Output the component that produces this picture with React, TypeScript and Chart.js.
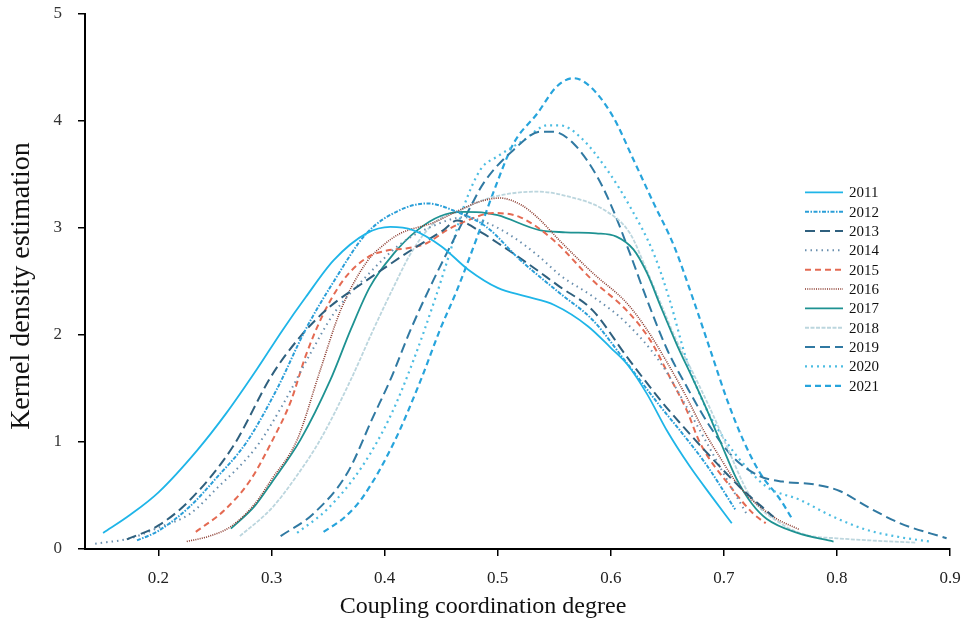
import { useEffect, useRef } from "react";
import { Chart, registerables } from "chart.js";

Chart.register(...registerables);

// ---- data ----
const years = ["2011", "2012", "2013", "2014", "2015", "2016", "2017", "2018", "2019", "2020", "2021"];

const x2011 = [0.151, 0.175, 0.2, 0.234, 0.26, 0.287, 0.31, 0.33, 0.355, 0.384, 0.405, 0.425, 0.45, 0.474, 0.5, 0.525, 0.55, 0.58, 0.6, 0.615, 0.632, 0.65, 0.67, 0.69, 0.707];
const y2011 = [0.15, 0.32, 0.53, 0.92, 1.27, 1.68, 2.05, 2.35, 2.7, 2.95, 3.01, 2.98, 2.83, 2.61, 2.44, 2.36, 2.28, 2.08, 1.88, 1.72, 1.45, 1.1, 0.77, 0.48, 0.24];

const x2012 = [0.181, 0.2, 0.228, 0.25, 0.278, 0.305, 0.33, 0.355, 0.384, 0.414, 0.4375, 0.464, 0.49, 0.52, 0.555, 0.584, 0.614, 0.644, 0.661, 0.685, 0.71];
const y2012 = [0.08, 0.17, 0.4, 0.65, 1.0, 1.5, 2.05, 2.5, 2.95, 3.17, 3.23, 3.15, 3.01, 2.7, 2.39, 2.14, 1.74, 1.33, 1.11, 0.78, 0.37];

const x2013 = [0.172, 0.2, 0.228, 0.266, 0.3, 0.325, 0.35, 0.384, 0.423, 0.452, 0.464, 0.487, 0.5, 0.525, 0.555, 0.584, 0.614, 0.644, 0.661, 0.685, 0.714, 0.744];
const y2013 = [0.09, 0.22, 0.46, 0.96, 1.62, 1.98, 2.25, 2.51, 2.79, 2.98, 3.07, 2.95, 2.86, 2.68, 2.45, 2.23, 1.8, 1.39, 1.18, 0.9, 0.58, 0.3];

const x2014 = [0.144, 0.175, 0.2, 0.228, 0.25, 0.287, 0.31, 0.334, 0.355, 0.384, 0.414, 0.443, 0.47, 0.49, 0.513, 0.537, 0.555, 0.584, 0.614, 0.644, 0.667, 0.685, 0.7, 0.72];
const y2014 = [0.05, 0.1, 0.2, 0.33, 0.55, 0.96, 1.35, 1.82, 2.2, 2.55, 2.85, 3.02, 3.1, 3.05, 2.92, 2.73, 2.56, 2.36, 2.11, 1.74, 1.33, 0.99, 0.7, 0.33];

const x2015 = [0.233, 0.258, 0.281, 0.3, 0.317, 0.33, 0.345, 0.364, 0.384, 0.402, 0.42, 0.4375, 0.455, 0.473, 0.496, 0.52, 0.549, 0.584, 0.614, 0.635, 0.652, 0.667, 0.679, 0.706, 0.726, 0.737];
const y2015 = [0.16, 0.36, 0.64, 1.0, 1.38, 1.8, 2.18, 2.52, 2.72, 2.79, 2.81, 2.86, 2.98, 3.07, 3.14, 3.1, 2.89, 2.51, 2.23, 1.95, 1.61, 1.3, 0.99, 0.58, 0.33, 0.24];

const x2016 = [0.225, 0.245, 0.264, 0.285, 0.3, 0.3226, 0.343, 0.361, 0.384, 0.4, 0.414, 0.443, 0.467, 0.485, 0.502, 0.52, 0.535, 0.555, 0.584, 0.614, 0.632, 0.65, 0.667, 0.682, 0.694, 0.714, 0.744, 0.767];
const y2016 = [0.07, 0.12, 0.21, 0.42, 0.65, 1.02, 1.67, 2.23, 2.68, 2.85, 2.95, 3.05, 3.17, 3.25, 3.28, 3.22, 3.1, 2.88, 2.58, 2.3, 2.05, 1.74, 1.42, 1.11, 0.9, 0.58, 0.3, 0.18];

const x2017 = [0.264, 0.285, 0.3, 0.3255, 0.352, 0.37, 0.387, 0.408, 0.429, 0.449, 0.47, 0.49, 0.5, 0.537, 0.56, 0.587, 0.605, 0.62, 0.632, 0.644, 0.658, 0.673, 0.685, 0.697, 0.711, 0.725, 0.738, 0.765, 0.797];
const y2017 = [0.19, 0.4, 0.62, 1.02, 1.58, 2.05, 2.45, 2.76, 2.98, 3.11, 3.15, 3.14, 3.12, 2.98, 2.96, 2.95, 2.92, 2.8, 2.58, 2.27, 1.92, 1.58, 1.3, 1.0, 0.66, 0.42, 0.28, 0.15, 0.07];

const x2018 = [0.272, 0.3, 0.32, 0.343, 0.37, 0.39, 0.408, 0.423, 0.443, 0.467, 0.496, 0.535, 0.564, 0.594, 0.617, 0.63, 0.644, 0.658, 0.673, 0.691, 0.703, 0.723, 0.75, 0.773, 0.8, 0.83, 0.87];
const y2018 = [0.12, 0.38, 0.65, 1.02, 1.58, 2.05, 2.45, 2.76, 3.04, 3.17, 3.29, 3.34, 3.29, 3.17, 2.95, 2.65, 2.3, 1.95, 1.64, 1.24, 0.95, 0.5, 0.24, 0.13, 0.1, 0.08, 0.06];

const x2019 = [0.308, 0.337, 0.367, 0.39, 0.405, 0.423, 0.443, 0.461, 0.479, 0.4875, 0.514, 0.538, 0.549, 0.567, 0.588, 0.602, 0.617, 0.632, 0.65, 0.667, 0.688, 0.708, 0.732, 0.752, 0.782, 0.803, 0.826, 0.856, 0.897];
const y2019 = [0.12, 0.33, 0.71, 1.24, 1.58, 2.05, 2.51, 2.89, 3.26, 3.42, 3.73, 3.9, 3.9, 3.79, 3.48, 3.17, 2.76, 2.33, 1.86, 1.52, 1.14, 0.86, 0.68, 0.63, 0.6, 0.54, 0.4, 0.24, 0.1];

const x2020 = [0.3226, 0.35, 0.38, 0.405, 0.425, 0.445, 0.46, 0.47, 0.485, 0.5, 0.523, 0.544, 0.555, 0.573, 0.597, 0.617, 0.638, 0.652, 0.667, 0.685, 0.703, 0.717, 0.738, 0.767, 0.797, 0.826, 0.856, 0.882];
const y2020 = [0.15, 0.38, 0.77, 1.24, 1.75, 2.35, 2.85, 3.2, 3.55, 3.67, 3.82, 3.96, 3.96, 3.85, 3.54, 3.2, 2.76, 2.33, 1.77, 1.3, 0.99, 0.8, 0.58, 0.46, 0.3, 0.18, 0.11, 0.07];

const x2021 = [0.346, 0.365, 0.381, 0.408, 0.432, 0.449, 0.464, 0.482, 0.495, 0.514, 0.535, 0.552, 0.567, 0.582, 0.602, 0.62, 0.638, 0.656, 0.673, 0.688, 0.703, 0.717, 0.732, 0.75, 0.761];
const y2021 = [0.16, 0.3, 0.49, 0.99, 1.58, 2.05, 2.42, 2.92, 3.3, 3.79, 4.07, 4.32, 4.4, 4.32, 4.04, 3.64, 3.23, 2.83, 2.33, 1.86, 1.39, 1.02, 0.71, 0.46, 0.27];

const xValues = [x2011, x2012, x2013, x2014, x2015, x2016, x2017, x2018, x2019, x2020, x2021];
const yValues = [y2011, y2012, y2013, y2014, y2015, y2016, y2017, y2018, y2019, y2020, y2021];

const xTicks = [0.2, 0.3, 0.4, 0.5, 0.6, 0.7, 0.8, 0.9];
const yTicks = [0, 1, 2, 3, 4, 5];

const xTitle = "Coupling coordination degree";
const yTitle = "Kernel density estimation";

// ---- styles ----
const seriesColors = ["#1fb5e8", "#2a9ed8", "#2f607e", "#6a8fae", "#e46a52", "#8b3a2e", "#1e9292", "#bcd6de", "#3079a2", "#4dbde2", "#27a4dc"];
const seriesDash: number[][] = [[], [4, 1.5, 1.5, 1.5], [10, 5], [1.5, 4], [6, 4], [1, 1.2], [], [4, 1.5], [10, 5], [2, 4], [6, 4]];
const seriesWidth = [1.8, 2, 2, 2, 2, 1.6, 1.8, 1.8, 2, 2.2, 2.2];

const SERIF = '"Liberation Serif", "Times New Roman", serif';

const overlayPlugin = {
  id: "overlay",
  afterDraw(chart: any) {
    const ctx = chart.ctx as CanvasRenderingContext2D;
    ctx.save();
    ctx.fillStyle = "#111";
    ctx.textBaseline = "middle";
    // x title
    ctx.font = `24px ${SERIF}`;
    ctx.textAlign = "center";
    ctx.fillText(xTitle, 483, 607);
    // y title
    ctx.save();
    ctx.translate(22, 286);
    ctx.rotate(-Math.PI / 2);
    ctx.font = `28px ${SERIF}`;
    ctx.fillText(yTitle, 0, 0);
    ctx.restore();
    // legend
    ctx.font = `15px ${SERIF}`;
    ctx.textAlign = "left";
    years.forEach((yr, i) => {
      const yy = 192.3 + i * 19.35;
      ctx.beginPath();
      ctx.setLineDash(seriesDash[i]);
      ctx.strokeStyle = seriesColors[i];
      ctx.lineWidth = seriesWidth[i];
      ctx.moveTo(805, yy);
      ctx.lineTo(843, yy);
      ctx.stroke();
      ctx.setLineDash([]);
      ctx.fillStyle = "#111";
      ctx.fillText(yr, 849, yy + 1);
    });
    ctx.restore();
  },
};

export default function App() {
  const canvasRef = useRef<HTMLCanvasElement | null>(null);

  useEffect(() => {
    const canvas = canvasRef.current;
    if (!canvas) return;
    const datasets = years.map((yr, i) => ({
      label: yr,
      data: xValues[i].map((x, j) => ({ x, y: yValues[i][j] })),
      borderColor: seriesColors[i],
      backgroundColor: seriesColors[i],
      borderWidth: seriesWidth[i],
      borderDash: seriesDash[i],
      pointRadius: 0,
      fill: false,
      cubicInterpolationMode: "monotone" as const,
    }));

    const chart = new Chart(canvas, {
      type: "line",
      data: { datasets },
      options: {
        responsive: false,
        animation: false,
        devicePixelRatio: 1,
        layout: { padding: { top: 14, right: 12, left: 0, bottom: 0 } },
        plugins: {
          legend: { display: false },
          tooltip: { enabled: false },
          title: { display: false },
        },
        scales: {
          x: {
            type: "linear",
            min: 0.135,
            max: 0.9,
            afterBuildTicks: (scale: any) => {
              scale.ticks = xTicks.map((v) => ({ value: v }));
            },
            afterFit: (scale: any) => {
              scale.height = 76;
              scale.paddingLeft = 0;
              scale.paddingRight = 0;
            },
            ticks: {
              autoSkip: false,
              maxRotation: 0,
              padding: 12,
              color: "#222",
              font: { family: SERIF, size: 17 },
              callback: (v: any) => Number(v).toFixed(1),
            },
            grid: {
              display: true,
              drawOnChartArea: false,
              drawTicks: true,
              tickLength: 7,
              color: "#000",
              lineWidth: 1.5,
            },
            border: { display: true, color: "#000", width: 2 },
          },
          y: {
            type: "linear",
            min: 0,
            max: 5,
            afterBuildTicks: (scale: any) => {
              scale.ticks = yTicks.map((v) => ({ value: v }));
            },
            afterFit: (scale: any) => {
              scale.width = 85;
              scale.paddingTop = 0;
              scale.paddingBottom = 0;
            },
            ticks: {
              autoSkip: false,
              padding: 16,
              color: "#333",
              font: { family: SERIF, size: 17 },
              callback: (v: any) => String(v),
            },
            grid: {
              display: true,
              drawOnChartArea: false,
              drawTicks: true,
              tickLength: 7,
              color: "#000",
              lineWidth: 1.5,
            },
            border: { display: true, color: "#000", width: 2 },
          },
        },
      },
      plugins: [overlayPlugin],
    });

    return () => {
      chart.destroy();
    };
  }, []);

  return (
    <div style={{ position: "absolute", left: 0, top: 0, width: 962, height: 625, background: "#fff" }}>
      <canvas ref={canvasRef} width={962} height={625} style={{ display: "block" }} />
    </div>
  );
}
